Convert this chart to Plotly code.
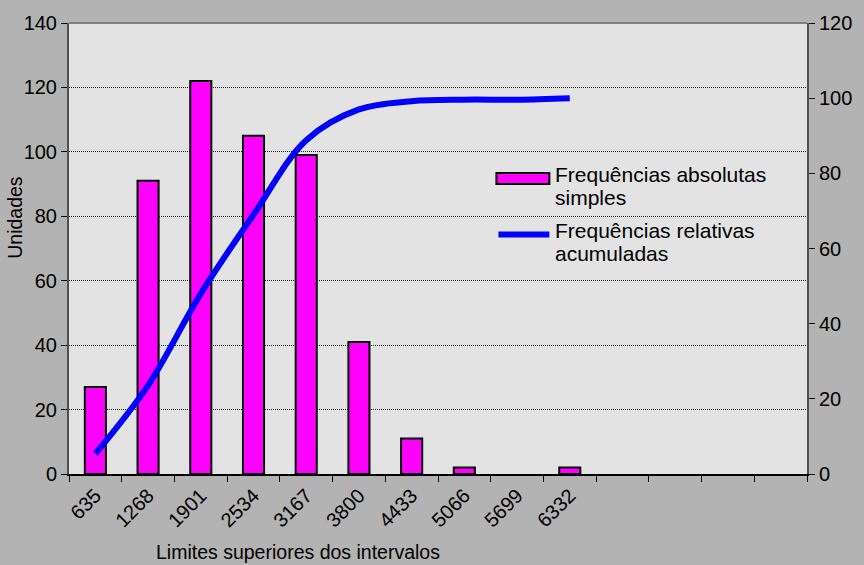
import plotly.graph_objects as go

# Upper class limits and frequencies
limites = ["635", "1268", "1901", "2534", "3167", "3800", "4433", "5066", "5699", "6332"]
freq_abs = [27, 91, 122, 105, 99, 41, 11, 2, 0, 2]
freq_rel_acum = [5.4, 23.6, 48.0, 69.0, 88.8, 97.0, 99.2, 99.6, 99.6, 100.0]
# four unlabeled slots keep the axis running to the right edge
vazias = [" ", "  ", "   ", "    "]
categorias = limites + vazias

left_ticks = [0, 20, 40, 60, 80, 100, 120, 140]
right_ticks = [0, 20, 40, 60, 80, 100, 120]

legenda_barras = ["Frequências absolutas", "simples"]
legenda_linha = ["Frequências relativas", "acumuladas"]

FONT = "Liberation Sans, Arial, sans-serif"
BG = "#b3b3b3"
PLOT_BG = "#e3e3e3"
TICK_SIZE = 20

fig = go.Figure()

# empty classes get no outline so nothing shows on the baseline
contorno = [2 if v > 0 else 0 for v in freq_abs]

fig.add_trace(go.Bar(
    x=limites, y=freq_abs, name="Frequências absolutas simples",
    marker=dict(color="#ff00ff", line=dict(color="black", width=contorno)),
    showlegend=False,
))

fig.add_trace(go.Scatter(
    x=limites, y=freq_rel_acum, name="Frequências relativas acumuladas",
    mode="lines", yaxis="y2",
    line=dict(color="#0000ff", width=6, shape="spline", smoothing=1.0),
    showlegend=False,
))

fig.update_layout(
    width=864, height=565,
    paper_bgcolor=BG, plot_bgcolor=PLOT_BG,
    margin=dict(l=69, r=56, t=20, b=91),
    font=dict(family=FONT, size=19, color="black"),
    bargap=0.6,
    xaxis=dict(
        type="category", categoryorder="array", categoryarray=categorias,
        range=[-0.5, len(categorias) - 0.5],
        tickson="boundaries", ticks="outside", ticklen=6, tickcolor="black",
        tickangle=-45, showgrid=False, showline=True, linecolor="black",
        linewidth=2, tickfont=dict(size=TICK_SIZE),
    ),
    yaxis=dict(
        range=[0, 140], tickvals=left_ticks, ticks="outside", ticklen=6,
        tickcolor="black", showline=True, linecolor="#505050", linewidth=2,
        showgrid=True, gridcolor="#202020", gridwidth=1, griddash="1px,1px",
        zeroline=False, tickfont=dict(size=TICK_SIZE),
    ),
    yaxis2=dict(
        range=[0, 120], tickvals=right_ticks, overlaying="y", side="right",
        ticks="outside", ticklen=6, tickcolor="black", showline=True,
        linecolor="#505050", linewidth=2, showgrid=False, zeroline=False,
        tickfont=dict(size=TICK_SIZE),
    ),
)

# top border of the plotting area
fig.add_shape(type="line", xref="paper", yref="paper", x0=0, x1=1, y0=1, y1=1,
              line=dict(color="#808080", width=2))

# axis titles
fig.add_annotation(text="Unidades", xref="paper", yref="paper",
                   x=(15 - 69) / 739, y=(474 - 216) / 454, textangle=-90,
                   showarrow=False, xanchor="center", yanchor="middle",
                   font=dict(size=19.5))
fig.add_annotation(text="Limites superiores dos intervalos", xref="paper", yref="paper",
                   x=(298 - 69) / 739, y=(474 - 553) / 454,
                   showarrow=False, xanchor="center", yanchor="middle",
                   font=dict(size=19.5))

# legend, drawn by hand so the bar key is a wide swatch
def px_x(v):
    return (v - 69) / 739

def px_y(v):
    return (474 - v) / 454

fig.add_shape(type="rect", xref="paper", yref="paper",
              x0=px_x(497), x1=px_x(550), y0=px_y(182), y1=px_y(171),
              fillcolor="#ff00ff", line=dict(color="black", width=2))
fig.add_shape(type="line", xref="paper", yref="paper",
              x0=px_x(499), x1=px_x(550), y0=px_y(233), y1=px_y(233),
              line=dict(color="#0000ff", width=6))

linhas = legenda_barras + legenda_linha
topos = [159, 182.4, 215, 238.4]
for texto, topo in zip(linhas, topos):
    fig.add_annotation(text=texto, xref="paper", yref="paper",
                       x=px_x(554), y=px_y(topo), xanchor="left", yanchor="top",
                       align="left", showarrow=False, font=dict(size=21))

fig.write_html("out.html")
